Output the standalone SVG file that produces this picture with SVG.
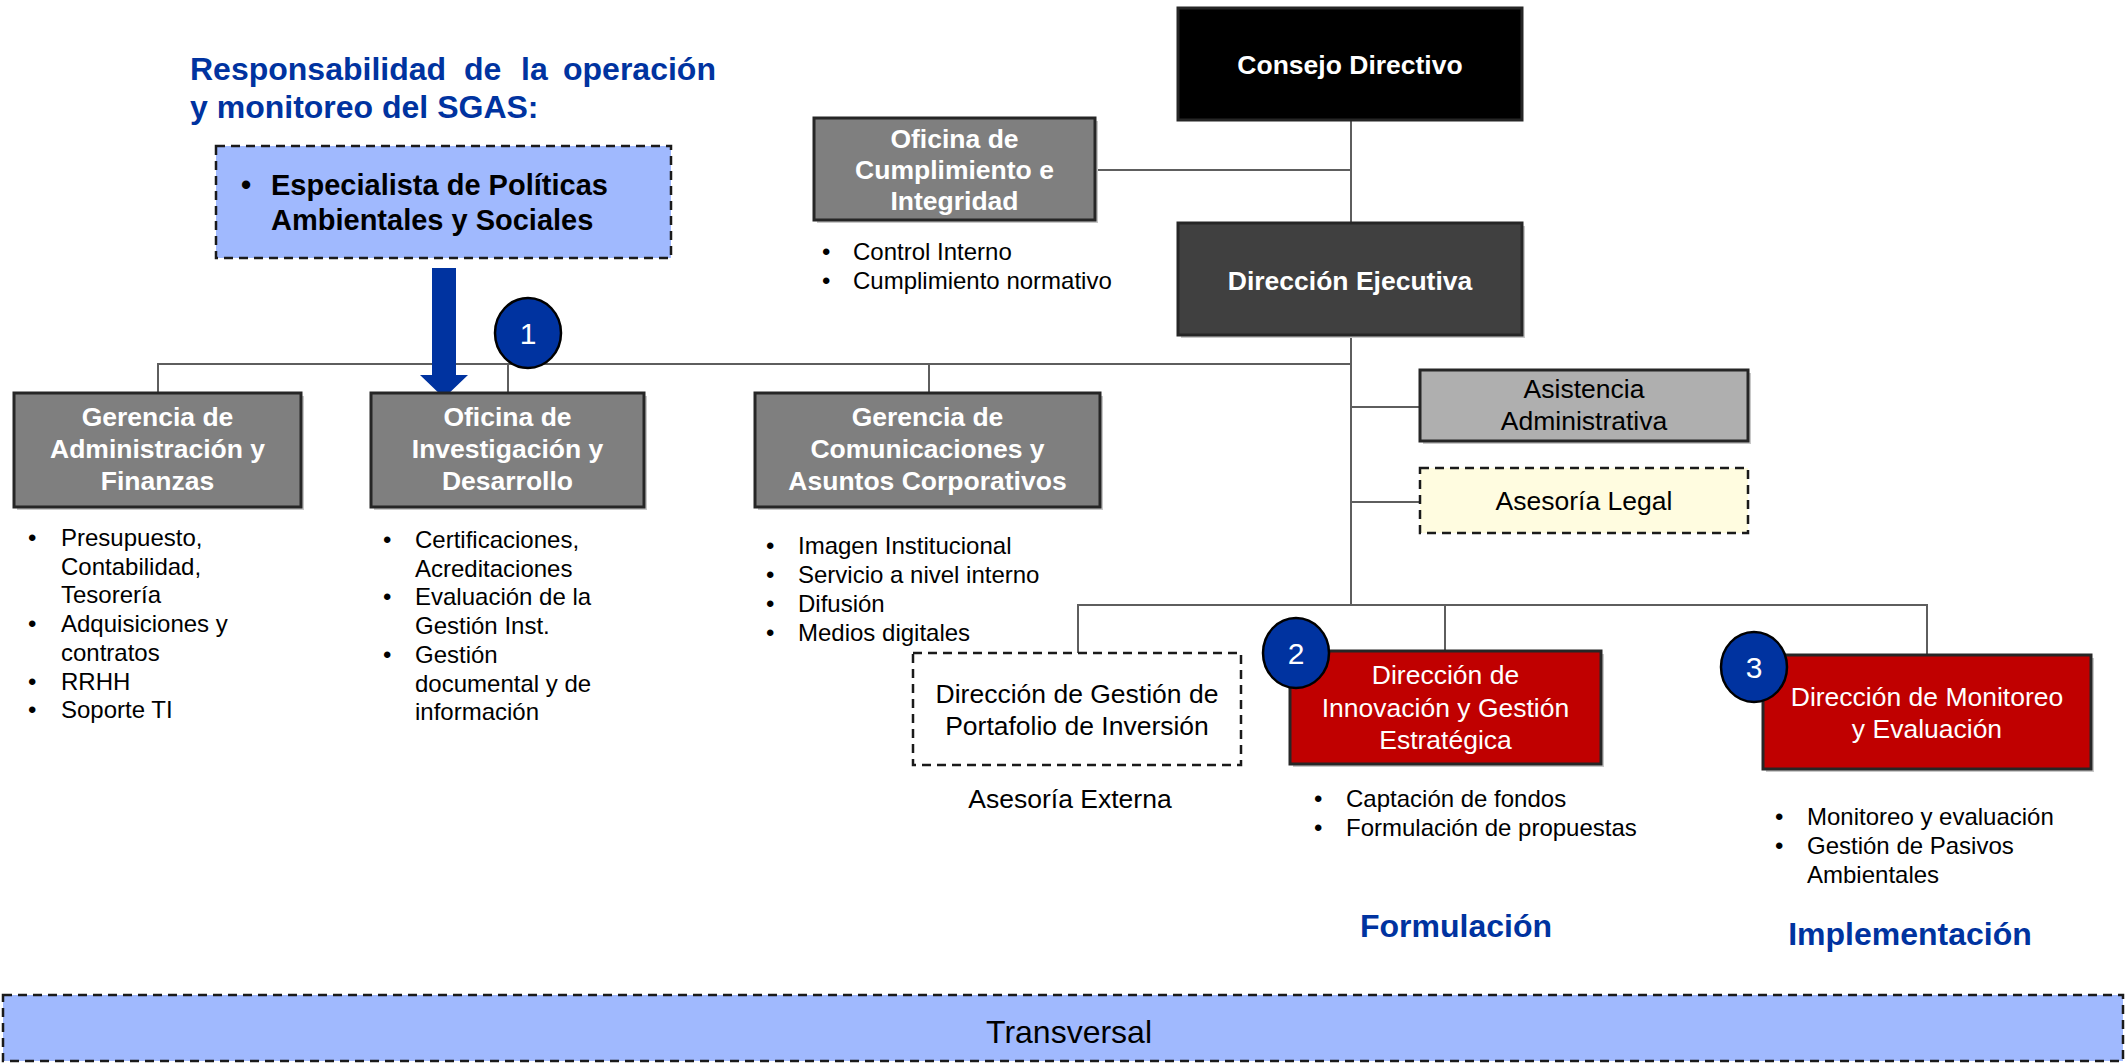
<svg xmlns="http://www.w3.org/2000/svg" width="2126" height="1063" viewBox="0 0 2126 1063">
<style>
text{font-family:"Liberation Sans",Arial,sans-serif}
.box{stroke:#262626;stroke-width:3}
.sh{fill:#c8c8c8}
.dash{stroke:#1a1a1a;stroke-width:2.5;stroke-dasharray:9 6}
.wb{fill:#fff;font-weight:bold;font-size:26.5px;text-anchor:middle}
.wr{fill:#fff;font-size:26.5px;text-anchor:middle}
.br{fill:#000;font-size:26.5px;text-anchor:middle}
.bl{fill:#000;font-size:24px}
.blue{fill:#0033a0;font-weight:bold;font-size:32px}
.num{fill:#fff;font-size:30px;text-anchor:middle}
.conn line{stroke:#5e5e5e;stroke-width:2}
.circ{fill:#0033a0;stroke:#000;stroke-width:2.5}
</style>

<g id="title">
<text class="blue" y="80"><tspan x="190">Responsabilidad</tspan><tspan x="464">de</tspan><tspan x="521">la</tspan><tspan x="563">operación</tspan></text>
<text class="blue" x="190" y="118">y monitoreo del SGAS:</text>
</g>

<g id="especialista">
<rect x="216" y="146" width="455" height="112" fill="#a0b9fe" class="dash"/>
<text x="241" y="195" font-size="29" font-weight="bold">•</text>
<text x="271" y="195" font-size="29" font-weight="bold">Especialista de Políticas</text>
<text x="271" y="230" font-size="29" font-weight="bold">Ambientales y Sociales</text>
</g>

<g id="conectores" class="conn">
<line x1="1351" y1="120" x2="1351" y2="223"/>
<line x1="1095" y1="170" x2="1351" y2="170"/>
<line x1="1351" y1="335" x2="1351" y2="606"/>
<line x1="158" y1="364" x2="1351" y2="364"/>
<line x1="158" y1="363" x2="158" y2="393"/>
<line x1="508" y1="363" x2="508" y2="393"/>
<line x1="929" y1="363" x2="929" y2="393"/>
<line x1="1351" y1="407" x2="1420" y2="407"/>
<line x1="1351" y1="502" x2="1420" y2="502"/>
<line x1="1078" y1="605" x2="1927" y2="605"/>
<line x1="1078" y1="604" x2="1078" y2="653"/>
<line x1="1445" y1="604" x2="1445" y2="651"/>
<line x1="1927" y1="604" x2="1927" y2="655"/>
</g>

<g id="flecha">
<polygon points="432,268 456,268 456,375 468,375 444,398 420,375 432,375" fill="#0033a0"/>
</g>

<g id="consejo">
<rect x="1178" y="8" width="344" height="112" fill="#000" class="box"/>
<text class="wb" x="1350" y="74" font-size="29.5">Consejo Directivo</text>
</g>

<g id="oficina-cumplimiento">
<rect x="817" y="121" width="281" height="102" class="sh"/>
<rect x="814" y="118" width="281" height="102" fill="#7f7f7f" class="box"/>
<text class="wb" x="954.5" y="148">Oficina de</text>
<text class="wb" x="954.5" y="179">Cumplimiento e</text>
<text class="wb" x="954.5" y="210">Integridad</text>
<text class="bl" x="822" y="260">•</text><text class="bl" x="853" y="260">Control Interno</text>
<text class="bl" x="822" y="289">•</text><text class="bl" x="853" y="289">Cumplimiento normativo</text>
</g>

<g id="direccion-ejecutiva">
<rect x="1181" y="226" width="344" height="112" class="sh"/>
<rect x="1178" y="223" width="344" height="112" fill="#404040" class="box"/>
<text class="wb" x="1350" y="290" font-size="29.5">Dirección Ejecutiva</text>
</g>

<g id="gerencia-admin">
<rect x="17" y="396" width="287" height="114" class="sh"/>
<rect x="14" y="393" width="287" height="114" fill="#7f7f7f" class="box"/>
<text class="wb" x="157.5" y="426">Gerencia de</text>
<text class="wb" x="157.5" y="458">Administración y</text>
<text class="wb" x="157.5" y="490">Finanzas</text>
<g class="bl">
<text x="28" y="546">•</text><text x="61" y="546">Presupuesto,</text>
<text x="61" y="574.7">Contabilidad,</text>
<text x="61" y="603.4">Tesorería</text>
<text x="28" y="632.1">•</text><text x="61" y="632.1">Adquisiciones y</text>
<text x="61" y="660.8">contratos</text>
<text x="28" y="689.5">•</text><text x="61" y="689.5">RRHH</text>
<text x="28" y="718.2">•</text><text x="61" y="718.2">Soporte TI</text>
</g>
</g>

<g id="oficina-investigacion">
<rect x="374" y="396" width="273" height="114" class="sh"/>
<rect x="371" y="393" width="273" height="114" fill="#7f7f7f" class="box"/>
<text class="wb" x="507.5" y="426">Oficina de</text>
<text class="wb" x="507.5" y="458">Investigación y</text>
<text class="wb" x="507.5" y="490">Desarrollo</text>
<g class="bl">
<text x="383" y="548">•</text><text x="415" y="548">Certificaciones,</text>
<text x="415" y="576.7">Acreditaciones</text>
<text x="383" y="605.4">•</text><text x="415" y="605.4">Evaluación de la</text>
<text x="415" y="634.1">Gestión Inst.</text>
<text x="383" y="662.8">•</text><text x="415" y="662.8">Gestión</text>
<text x="415" y="691.5">documental y de</text>
<text x="415" y="720.2">información</text>
</g>
</g>

<g id="gerencia-comunicaciones">
<rect x="758" y="396" width="345" height="114" class="sh"/>
<rect x="755" y="393" width="345" height="114" fill="#7f7f7f" class="box"/>
<text class="wb" x="927.5" y="426">Gerencia de</text>
<text class="wb" x="927.5" y="458">Comunicaciones y</text>
<text class="wb" x="927.5" y="490">Asuntos Corporativos</text>
<g class="bl">
<text x="766" y="554">•</text><text x="798" y="554">Imagen Institucional</text>
<text x="766" y="583">•</text><text x="798" y="583">Servicio a nivel interno</text>
<text x="766" y="612">•</text><text x="798" y="612">Difusión</text>
<text x="766" y="641">•</text><text x="798" y="641">Medios digitales</text>
</g>
</g>

<g id="asistencia">
<rect x="1423" y="373" width="328" height="71" class="sh"/>
<rect x="1420" y="370" width="328" height="71" fill="#afafaf" class="box"/>
<text class="br" x="1584" y="398">Asistencia</text>
<text class="br" x="1584" y="430">Administrativa</text>
</g>

<g id="asesoria-legal">
<rect x="1420" y="468" width="328" height="65" fill="#fffce0" class="dash"/>
<text class="br" x="1584" y="510">Asesoría Legal</text>
</g>

<g id="portafolio">
<rect x="913" y="653" width="328" height="112" fill="#fff" class="dash"/>
<text class="br" x="1077" y="703">Dirección de Gestión de</text>
<text class="br" x="1077" y="735">Portafolio de Inversión</text>
<text class="br" x="1070" y="808">Asesoría Externa</text>
</g>

<g id="innovacion">
<rect x="1293" y="654" width="311" height="113" class="sh"/>
<rect x="1290" y="651" width="311" height="113" fill="#c00000" class="box"/>
<text class="wr" x="1445.5" y="684">Dirección de</text>
<text class="wr" x="1445.5" y="717">Innovación y Gestión</text>
<text class="wr" x="1445.5" y="749">Estratégica</text>
<g class="bl">
<text x="1314" y="807">•</text><text x="1346" y="807">Captación de fondos</text>
<text x="1314" y="836">•</text><text x="1346" y="836">Formulación de propuestas</text>
</g>
<text class="blue" x="1456" y="937" text-anchor="middle">Formulación</text>
</g>

<g id="monitoreo">
<rect x="1766" y="658" width="328" height="114" class="sh"/>
<rect x="1763" y="655" width="328" height="114" fill="#c00000" class="box"/>
<text class="wr" x="1927" y="706">Dirección de Monitoreo</text>
<text class="wr" x="1927" y="738">y Evaluación</text>
<g class="bl">
<text x="1775" y="825">•</text><text x="1807" y="825">Monitoreo y evaluación</text>
<text x="1775" y="854">•</text><text x="1807" y="854">Gestión de Pasivos</text>
<text x="1807" y="883">Ambientales</text>
</g>
<text class="blue" x="1910" y="945" text-anchor="middle">Implementación</text>
</g>

<g id="circulo-1">
<ellipse cx="528" cy="333" rx="33" ry="35" class="circ"/>
<text class="num" x="528" y="344">1</text>
</g>
<g id="circulo-2">
<ellipse cx="1296" cy="653" rx="33" ry="35" class="circ"/>
<text class="num" x="1296" y="664">2</text>
</g>
<g id="circulo-3">
<ellipse cx="1754" cy="667" rx="33" ry="35" class="circ"/>
<text class="num" x="1754" y="678">3</text>
</g>

<g id="transversal">
<rect x="3" y="995" width="2120" height="66" fill="#a0b9fe" class="dash"/>
<text x="1069" y="1043" font-size="32" text-anchor="middle" fill="#000">Transversal</text>
</g>
</svg>
